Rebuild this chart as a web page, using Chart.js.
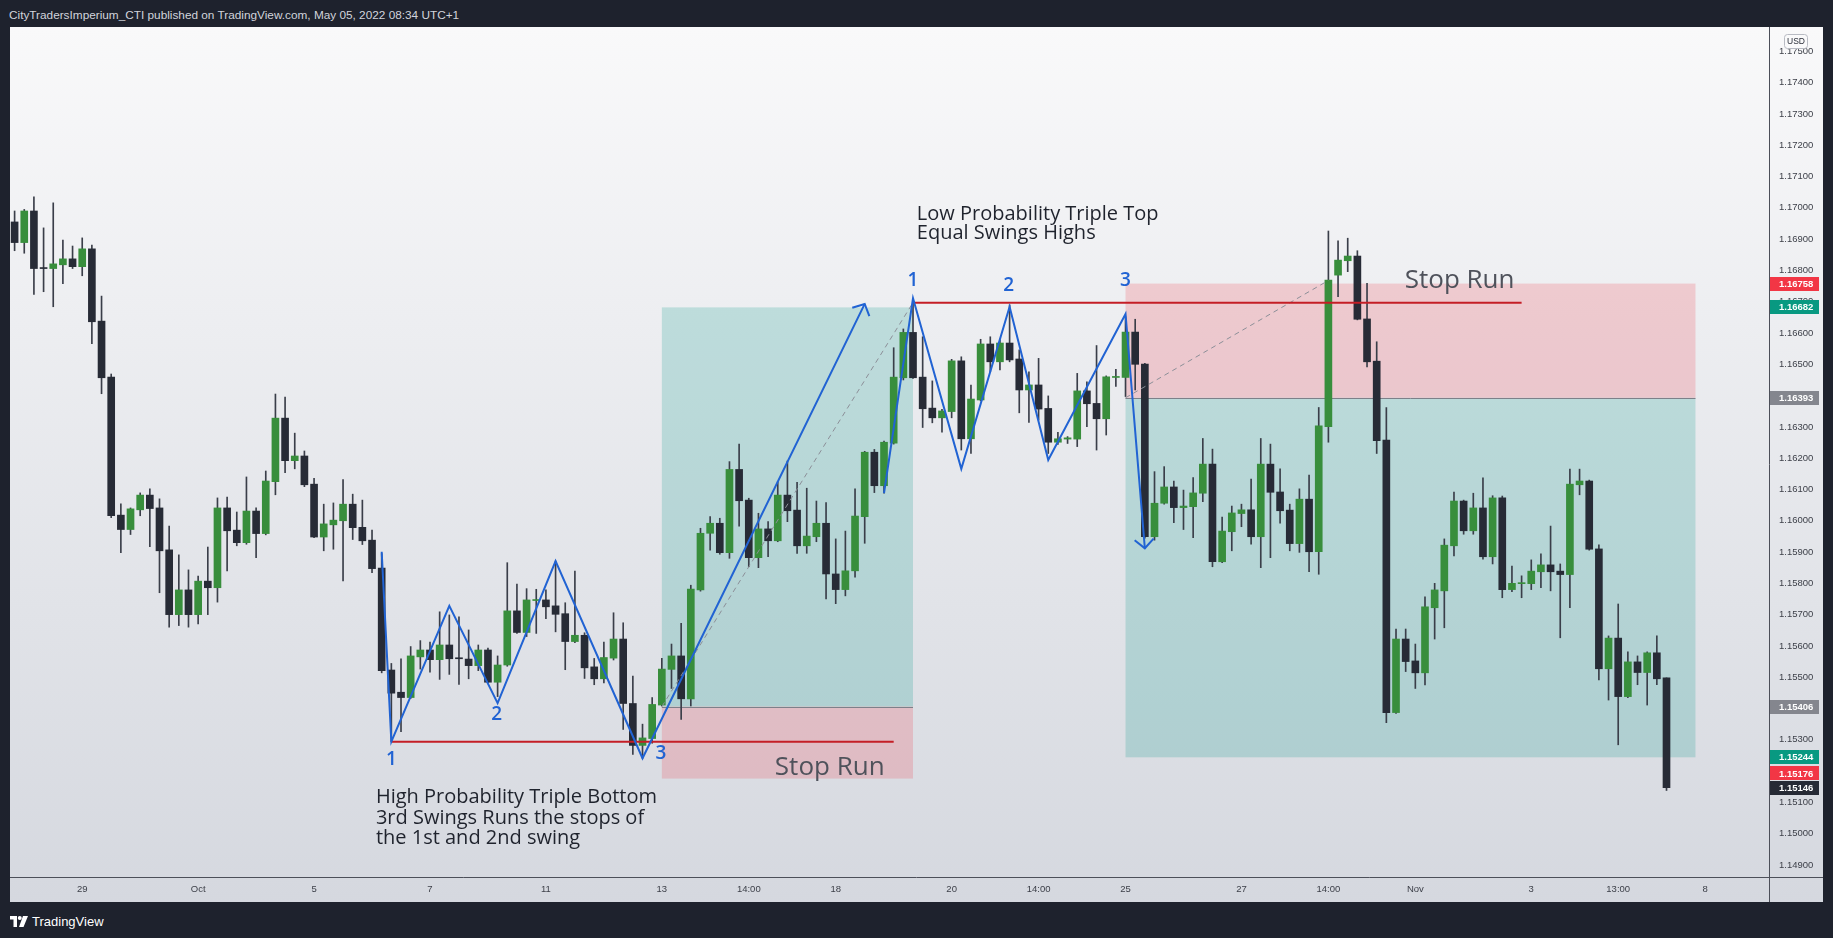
<!DOCTYPE html>
<html>
<head>
<meta charset="utf-8">
<script src="https://cdn.jsdelivr.net/npm/chart.js@4.4.0/dist/chart.umd.min.js"></script>
<style>
  html, body { margin: 0; padding: 0; background: #1e222d; width: 1833px; height: 938px; overflow: hidden; }
  #header { position: absolute; left: 9px; top: 8px; color: #d1d4dc; font: 11.8px "Liberation Sans", Arial, sans-serif; white-space: nowrap; }
  #wrap { position: absolute; left: 10px; top: 27px; width: 1813px; height: 875px; }
  #footer { position: absolute; left: 10px; top: 914px; color: #ffffff; font: 13px "Liberation Sans", Arial, sans-serif; display: flex; align-items: center; gap: 4px; }
</style>
</head>
<body>
<div id="header">CityTradersImperium_CTI published on TradingView.com, May 05, 2022 08:34 UTC+1</div>
<div id="wrap"><canvas id="chart" width="1813" height="875"></canvas></div>
<div id="footer">
  <svg width="18" height="11" viewBox="0 0 36 22"><path d="M0 0h14v22H7V7H0z" fill="#fff"/><circle cx="19.5" cy="4" r="4" fill="#fff"/><path d="M26 0h10l-9 22h-9z" fill="#fff"/></svg>
  <span>TradingView</span>
</div>
<script>
// EURUSD 4H candles (index = candle number)
const opens = [1.16955,1.16889,1.16990,1.16807,1.16806,1.16818,1.16837,1.16812,1.16869,1.16638,
  1.16459,1.16018,1.15972,1.16035,1.16082,1.16041,1.15907,1.15700,1.15779,1.15700,
  1.15807,1.15786,1.16041,1.15970,1.15930,1.16031,1.15959,1.16125,1.16328,1.16192,
  1.16207,1.16117,1.15948,1.15987,1.16000,1.16053,1.15979,1.15938,1.15849,1.15523,
  1.15452,1.15435,1.15565,1.15587,1.15556,1.15603,1.15560,1.15558,1.15537,1.15587,
  1.15484,1.15539,1.15712,1.15643,1.15745,1.15747,1.15728,1.15703,1.15614,1.15634,
  1.15533,1.15495,1.15561,1.15622,1.15416,1.15282,1.15304,1.15411,1.15525,1.15568,
  1.15431,1.15779,1.15960,1.15992,1.15898,1.16164,1.16066,1.15882,1.15974,1.15936,
  1.16082,1.16034,1.15920,1.15949,1.15992,1.15830,1.15780,1.15840,1.16013,1.16219,
  1.16112,1.16248,1.16457,1.16602,1.16459,1.16360,1.16329,1.16349,1.16511,1.16262,
  1.16386,1.16565,1.16508,1.16568,1.16517,1.16418,1.16434,1.16359,1.16251,1.16261,
  1.16261,1.16415,1.16375,1.16326,1.16458,1.16458,1.16603,1.16501,1.15949,1.16056,
  1.16108,1.16042,1.16045,1.16088,1.16181,1.15869,1.15965,1.16023,1.16035,1.15949,
  1.16181,1.16092,1.16034,1.15927,1.16069,1.15901,1.16301,1.16785,1.16831,1.16846,
  1.16645,1.16510,1.16258,1.15387,1.15622,1.15552,1.15514,1.15722,1.15776,1.15920,
  1.16063,1.15968,1.16041,1.15885,1.16073,1.15780,1.15799,1.15799,1.15837,1.15859,
  1.15839,1.15828,1.16115,1.16127,1.15910,1.15527,1.15625,1.15438,1.15549,1.15515,
  1.15578,1.15498];
const highs = [1.16990,1.16995,1.17035,1.16936,1.17016,1.16897,1.16878,1.16904,1.16881,1.16718,
  1.16469,1.16054,1.16041,1.16089,1.16102,1.16070,1.15983,1.15891,1.15843,1.15823,
  1.15916,1.16073,1.16076,1.16028,1.16140,1.16041,1.16159,1.16405,1.16395,1.16280,
  1.16223,1.16136,1.16053,1.16057,1.16132,1.16085,1.16066,1.15970,1.15895,1.15544,
  1.15559,1.15598,1.15617,1.15612,1.15709,1.15699,1.15693,1.15651,1.15603,1.15593,
  1.15568,1.15866,1.15798,1.15783,1.15781,1.15779,1.15871,1.15738,1.15839,1.15642,
  1.15560,1.15612,1.15706,1.15674,1.15504,1.15350,1.15435,1.15560,1.15606,1.15672,
  1.15794,1.15976,1.16013,1.16008,1.16189,1.16245,1.16072,1.16024,1.15997,1.16125,
  1.16191,1.16123,1.16104,1.16063,1.16058,1.15942,1.15967,1.16102,1.16222,1.16228,
  1.16255,1.16553,1.16613,1.16697,1.16588,1.16447,1.16356,1.16516,1.16524,1.16434,
  1.16580,1.16588,1.16578,1.16690,1.16546,1.16476,1.16519,1.16399,1.16283,1.16269,
  1.16471,1.16444,1.16560,1.16463,1.16484,1.16652,1.16644,1.16503,1.16157,1.16173,
  1.16127,1.16098,1.16138,1.16263,1.16229,1.16012,1.16047,1.16053,1.16133,1.16263,
  1.16245,1.16166,1.16053,1.16102,1.16146,1.16362,1.16926,1.16895,1.16903,1.16863,
  1.16759,1.16572,1.16362,1.15654,1.15654,1.15606,1.15757,1.15800,1.15942,1.16092,
  1.16066,1.16088,1.16137,1.16080,1.16079,1.15855,1.15824,1.15875,1.15894,1.15983,
  1.15862,1.16165,1.16165,1.16130,1.15923,1.15632,1.15734,1.15581,1.15568,1.15581,
  1.15632,1.15498];
const lows = [1.16863,1.16855,1.16723,1.16732,1.16684,1.16758,1.16806,1.16783,1.16566,1.16406,
  1.16010,1.15898,1.15956,1.16016,1.15917,1.15770,1.15660,1.15665,1.15660,1.15670,
  1.15700,1.15740,1.15840,1.15920,1.15925,1.15882,1.15955,1.16083,1.16154,1.16166,
  1.16109,1.15946,1.15904,1.15909,1.15808,1.15940,1.15924,1.15834,1.15514,1.15294,
  1.15326,1.15432,1.15526,1.15516,1.15493,1.15509,1.15477,1.15495,1.15521,1.15482,
  1.15438,1.15535,1.15640,1.15630,1.15640,1.15687,1.15645,1.15524,1.15610,1.15496,
  1.15476,1.15482,1.15555,1.15333,1.15253,1.15241,1.15289,1.15408,1.15464,1.15365,
  1.15408,1.15775,1.15906,1.15893,1.15880,1.15983,1.15853,1.15850,1.15885,1.15933,
  1.15997,1.15896,1.15896,1.15933,1.15750,1.15735,1.15760,1.15820,1.15928,1.16090,
  1.16088,1.16245,1.16450,1.16455,1.16298,1.16313,1.16283,1.16329,1.16226,1.16215,
  1.16383,1.16476,1.16482,1.16508,1.16345,1.16314,1.16322,1.16215,1.16244,1.16247,
  1.16237,1.16301,1.16226,1.16274,1.16429,1.16397,1.16418,1.15944,1.15938,1.16053,
  1.15994,1.15972,1.15946,1.16061,1.15853,1.15866,1.15904,1.15981,1.15925,1.15850,
  1.15882,1.15992,1.15904,1.15899,1.15837,1.15829,1.16251,1.16716,1.16796,1.16642,
  1.16492,1.16215,1.15355,1.15384,1.15518,1.15464,1.15475,1.15622,1.15658,1.15888,
  1.15957,1.15957,1.15877,1.15862,1.15754,1.15773,1.15754,1.15780,1.15786,1.15776,
  1.15626,1.15722,1.16083,1.15906,1.15491,1.15427,1.15284,1.15435,1.15476,1.15411,
  1.15476,1.15138];
const closes = [1.16889,1.16990,1.16806,1.16806,1.16821,1.16837,1.16812,1.16869,1.16636,1.16457,
  1.16016,1.15972,1.16038,1.16082,1.16039,1.15904,1.15700,1.15779,1.15700,1.15807,
  1.15786,1.16041,1.15968,1.15930,1.16031,1.15959,1.16127,1.16328,1.16192,1.16207,
  1.16115,1.15948,1.15990,1.16002,1.16053,1.15978,1.15936,1.15847,1.15521,1.15449,
  1.15435,1.15568,1.15587,1.15556,1.15603,1.15559,1.15559,1.15537,1.15587,1.15484,
  1.15539,1.15712,1.15643,1.15747,1.15747,1.15725,1.15701,1.15614,1.15634,1.15530,
  1.15495,1.15563,1.15622,1.15416,1.15282,1.15306,1.15413,1.15526,1.15568,1.15431,
  1.15782,1.15960,1.15992,1.15898,1.16164,1.16064,1.15882,1.15974,1.15936,1.16082,
  1.16032,1.15920,1.15951,1.15992,1.15830,1.15780,1.15840,1.16015,1.16219,1.16112,
  1.16251,1.16459,1.16602,1.16457,1.16358,1.16329,1.16351,1.16511,1.16262,1.16389,
  1.16565,1.16508,1.16568,1.16514,1.16418,1.16434,1.16357,1.16251,1.16262,1.16265,
  1.16415,1.16374,1.16326,1.16460,1.16459,1.16603,1.16500,1.15949,1.16056,1.16108,
  1.16042,1.16047,1.16089,1.16181,1.15869,1.15967,1.16025,1.16035,1.15949,1.16181,
  1.16091,1.16032,1.15927,1.16069,1.15901,1.16303,1.16769,1.16833,1.16846,1.16644,
  1.16508,1.16256,1.15387,1.15622,1.15550,1.15514,1.15725,1.15779,1.15922,1.16063,
  1.15968,1.16041,1.15885,1.16073,1.15780,1.15800,1.15801,1.15839,1.15859,1.15837,
  1.15828,1.16117,1.16127,1.15909,1.15527,1.15625,1.15438,1.15549,1.15515,1.15578,
  1.15495,1.15147];

// axis ticks
const timeTickIdx = [7, 19, 31, 43, 55, 67, 76, 85, 97, 106, 115, 127, 136, 145, 157, 166, 175];
const timeTickLabels = ['29', 'Oct', '5', '7', '11', '13', '14:00', '18', '20', '14:00', '25', '27', '14:00', 'Nov', '3', '13:00', '8'];
const priceTicks = [1.149, 1.150, 1.151, 1.152, 1.153, 1.154, 1.155, 1.156, 1.157, 1.158, 1.159,
  1.160, 1.161, 1.162, 1.163, 1.164, 1.165, 1.166, 1.167, 1.168, 1.169, 1.170, 1.171, 1.172, 1.173, 1.174, 1.175];

// position tools: long (left) and short (right)
const zoneStart = [67, 115];
const zoneEnd = [93, 174];
const zoneEntry = [1.15406, 1.16393];
const zoneTarget = [1.16682, 1.15244];
const zoneStop = [1.15176, 1.16758];

// horizontal red levels
const levelStart = [39, 93];
const levelEnd = [91, 156];
const levelPrice = [1.15294, 1.16697];

// blue swing paths
const bottomSwingX = [38, 39, 45, 50, 56, 65, 88];
const bottomSwingY = [1.15901, 1.15294, 1.15728, 1.15417, 1.15871, 1.15241, 1.16693];
const topSwingX = [90, 93, 98, 103, 107, 115, 117];
const topSwingY = [1.16088, 1.16711, 1.16166, 1.16684, 1.16194, 1.16661, 1.15912];

// dashed trade lines
const dashAX = [67, 93];
const dashAY = [1.15406, 1.16697];
const dashBX = [115, 136];
const dashBY = [1.16393, 1.16768];

// notes
const noteText = ['Low Probability Triple Top', 'Equal Swings Highs', 'High Probability Triple Bottom', '3rd Swings Runs the stops of', 'the 1st and 2nd swing'];
const noteX = [93.4, 93.4, 37.4, 37.4, 37.4];
const noteY = [1.16961, 1.16900, 1.15097, 1.15032, 1.14966];
const stopText = ['Stop Run', 'Stop Run'];
const stopX = [78.7, 143.9];
const stopY = [1.15188, 1.16744];
const swingLabel = ['1', '2', '3', '1', '2', '3'];
const swingLabelX = [39, 49.9, 66.9, 93, 102.9, 115];
const swingLabelY = [1.15236, 1.15382, 1.15257, 1.16767, 1.16750, 1.16766];

// price tags on the axis
const tagValues = [1.16758, 1.16682, 1.16393, 1.15406, 1.15244, 1.15176, 1.15146];
const tagColors = ['#f23645', '#089981', '#84868e', '#84868e', '#089981', '#f23645', '#262a35'];

const upColor = '#388e3c';
const downColor = '#272b36';
const wickColor = '#3a3e49';
const blue = '#2163d3';
const redLine = '#c41e26';

const toXY = (xs, ys) => xs.map((x, i) => ({ x: x, y: ys[i] }));

const datasets = [];
datasets.push({
  type: 'bar', label: 'wicks', order: 6, grouped: false,
  data: opens.map((o, i) => ({ x: i, y: [lows[i], highs[i]] })),
  backgroundColor: wickColor, barThickness: 1, minBarLength: 1
});
datasets.push({
  type: 'bar', label: 'bodies', order: 5, grouped: false,
  data: opens.map((o, i) => ({ x: i, y: [o, closes[i]] })),
  backgroundColor: opens.map((o, i) => closes[i] >= o ? upColor : downColor),
  barThickness: 7, minBarLength: 1
});
levelPrice.forEach((p, k) => {
  datasets.push({
    type: 'line', order: 3, data: [{ x: levelStart[k], y: p }, { x: levelEnd[k], y: p }],
    borderColor: redLine, borderWidth: 2, pointRadius: 0, fill: false
  });
});
datasets.push({ type: 'line', order: 3, data: toXY(dashAX, dashAY), borderColor: '#8c8f98', borderWidth: 1, borderDash: [5, 4], pointRadius: 0, fill: false });
datasets.push({ type: 'line', order: 3, data: toXY(dashBX, dashBY), borderColor: '#8c8f98', borderWidth: 1, borderDash: [5, 4], pointRadius: 0, fill: false });
datasets.push({ type: 'line', order: 2, data: toXY(bottomSwingX, bottomSwingY), borderColor: blue, borderWidth: 2, pointRadius: 0, fill: false, tension: 0 });
datasets.push({ type: 'line', order: 2, data: toXY(topSwingX, topSwingY), borderColor: blue, borderWidth: 2, pointRadius: 0, fill: false, tension: 0 });

const bgPlugin = {
  id: 'bg',
  beforeDraw(chart) {
    const c = chart.ctx;
    const g = c.createLinearGradient(0, 0, 0, chart.height);
    g.addColorStop(0, '#f9f9fa');
    g.addColorStop(1, '#d5d8df');
    c.save();
    c.fillStyle = g;
    c.fillRect(0, 0, chart.width, chart.height);
    c.restore();
  }
};

const zonePlugin = {
  id: 'zones',
  beforeDatasetsDraw(chart) {
    const c = chart.ctx, xs = chart.scales.x, ys = chart.scales.y;
    c.save();
    zoneStart.forEach((s, k) => {
      const x1 = xs.getPixelForValue(s), x2 = xs.getPixelForValue(zoneEnd[k]);
      const ye = ys.getPixelForValue(zoneEntry[k]);
      const yt = ys.getPixelForValue(zoneTarget[k]);
      const yst = ys.getPixelForValue(zoneStop[k]);
      c.fillStyle = 'rgba(0,150,136,0.2)';
      c.fillRect(x1, Math.min(ye, yt), x2 - x1, Math.abs(yt - ye));
      c.fillStyle = 'rgba(242,54,69,0.2)';
      c.fillRect(x1, Math.min(ye, yst), x2 - x1, Math.abs(yst - ye));
      c.strokeStyle = '#7d8089';
      c.lineWidth = 1;
      c.beginPath();
      c.moveTo(x1, Math.round(ye) + 0.5);
      c.lineTo(x2, Math.round(ye) + 0.5);
      c.stroke();
    });
    c.restore();
  }
};

function arrowHead(c, x0, y0, x1, y1) {
  const ang = Math.atan2(y0 - y1, x0 - x1);
  const len = 13, spread = 0.82;
  c.beginPath();
  c.moveTo(x1 + len * Math.cos(ang + spread), y1 + len * Math.sin(ang + spread));
  c.lineTo(x1, y1);
  c.lineTo(x1 + len * Math.cos(ang - spread), y1 + len * Math.sin(ang - spread));
  c.stroke();
}

const overlayPlugin = {
  id: 'overlay',
  afterDatasetsDraw(chart) {
    const c = chart.ctx, xs = chart.scales.x, ys = chart.scales.y;
    const px = (v) => xs.getPixelForValue(v), py = (v) => ys.getPixelForValue(v);
    c.save();
    // arrow heads on the swing paths
    c.strokeStyle = blue;
    c.lineWidth = 2;
    c.lineJoin = 'miter';
    let n = bottomSwingX.length - 1;
    arrowHead(c, px(bottomSwingX[n - 1]), py(bottomSwingY[n - 1]), px(bottomSwingX[n]), py(bottomSwingY[n]));
    n = topSwingX.length - 1;
    arrowHead(c, px(topSwingX[n - 1]), py(topSwingY[n - 1]), px(topSwingX[n]), py(topSwingY[n]));

    // notes
    c.fillStyle = '#1f232d';
    c.font = '500 20px "Open Sans"';
    c.textBaseline = 'alphabetic';
    c.textAlign = 'left';
    noteText.forEach((t, k) => c.fillText(t, px(noteX[k]), py(noteY[k])));
    c.fillStyle = '#4f525b';
    c.font = '26px "Open Sans"';
    stopText.forEach((t, k) => c.fillText(t, px(stopX[k]), py(stopY[k])));
    c.fillStyle = blue;
    c.font = '600 19px "Open Sans"';
    c.textAlign = 'center';
    c.textBaseline = 'middle';
    swingLabel.forEach((t, k) => c.fillText(t, px(swingLabelX[k]), py(swingLabelY[k])));
    c.restore();
  },
  afterDraw(chart) {
    const c = chart.ctx, ys = chart.scales.y, area = chart.chartArea;
    c.save();
    // axis separators
    c.strokeStyle = '#4c4f59';
    c.lineWidth = 1;
    c.beginPath();
    c.moveTo(Math.round(area.right) + 0.5, 0);
    c.lineTo(Math.round(area.right) + 0.5, chart.height);
    c.moveTo(0, Math.round(area.bottom) + 0.5);
    c.lineTo(chart.width, Math.round(area.bottom) + 0.5);
    c.stroke();

    // price tags, pushed up when they overlap
    const order = tagValues.map((v, k) => k).sort((a, b) => tagValues[a] - tagValues[b]);
    let prev = Infinity;
    const tagY = [];
    order.forEach((k) => {
      let y = ys.getPixelForValue(tagValues[k]);
      if (y > prev - 14.5) y = prev - 14.5;
      tagY[k] = y;
      prev = y;
    });
    c.font = 'bold 9.5px "Liberation Sans"';
    c.textBaseline = 'middle';
    c.textAlign = 'left';
    tagValues.forEach((v, k) => {
      const y = tagY[k];
      c.fillStyle = tagColors[k];
      c.fillRect(area.right + 1, Math.round(y - 7), 49, 14);
      c.fillStyle = '#ffffff';
      c.fillText(v.toFixed(5), area.right + 10, y + 0.5);
    });

    // currency box
    const bx = area.right + 15, by = 7;
    c.fillStyle = '#fafafb';
    c.strokeStyle = '#b8bbc3';
    c.beginPath();
    c.roundRect(bx + 0.5, by + 0.5, 23, 14, 3);
    c.fill();
    c.stroke();
    c.fillStyle = '#2a2e39';
    c.font = '8.5px "Liberation Sans"';
    c.textAlign = 'center';
    c.fillText('USD', bx + 12, by + 8);
    c.restore();
  }
};

const axisFont = { family: '"Liberation Sans", Arial, sans-serif', size: 9.5 };

new Chart(document.getElementById('chart'), {
  type: 'bar',
  data: { datasets: datasets },
  options: {
    responsive: false,
    animation: false,
    events: [],
    layout: { padding: 0 },
    plugins: { legend: { display: false }, tooltip: { enabled: false } },
    scales: {
      x: {
        type: 'linear', min: -0.476, max: 181.61, offset: false,
        grid: { display: false, drawTicks: false }, border: { display: false },
        afterBuildTicks: (s) => { s.ticks = timeTickIdx.map((v) => ({ value: v })); },
        afterFit: (s) => { s.height = 25; s.paddingLeft = 0; s.paddingRight = 0; s.paddingTop = 0; s.paddingBottom = 0; },
        ticks: {
          autoSkip: false, maxRotation: 0, padding: 7, color: '#3d4049', font: axisFont,
          callback: (v) => timeTickLabels[timeTickIdx.indexOf(v)]
        }
      },
      y: {
        type: 'linear', position: 'right', min: 1.148615, max: 1.17578,
        grid: { display: false, drawTicks: false }, border: { display: false },
        afterBuildTicks: (s) => { s.ticks = priceTicks.map((v) => ({ value: v })); },
        afterFit: (s) => { s.width = 54; s.paddingLeft = 0; s.paddingRight = 0; s.paddingTop = 0; s.paddingBottom = 0; },
        ticks: {
          autoSkip: false, padding: 10, color: '#3d4049', font: axisFont,
          callback: (v) => v.toFixed(5)
        }
      }
    }
  },
  plugins: [bgPlugin, zonePlugin, overlayPlugin]
});
</script>
</body>
</html>
